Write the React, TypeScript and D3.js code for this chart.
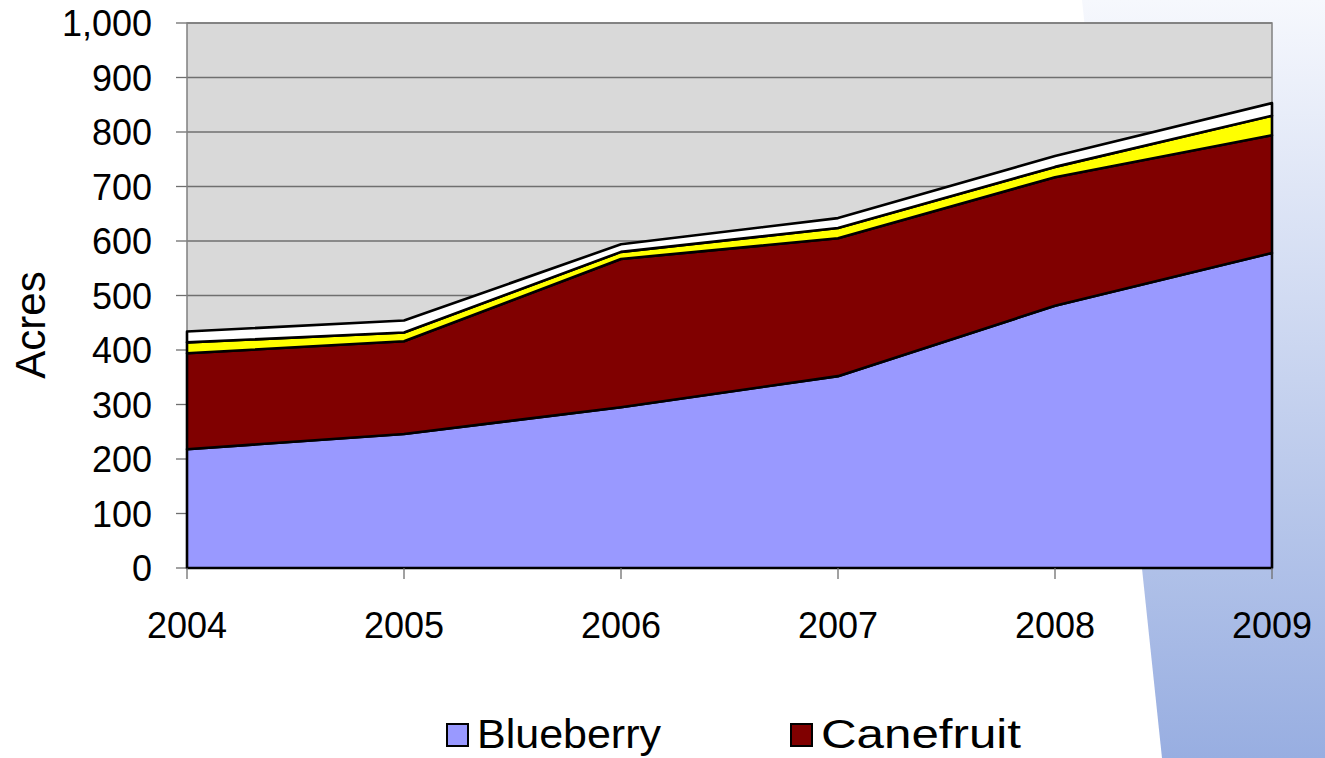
import * as d3 from "d3";

const years = ["2004", "2005", "2006", "2007", "2008", "2009"];
const blueberry = [218, 246, 295, 352, 481, 578];
const canefruit = [176, 170, 272, 253, 236, 216];
const strawberry = [20, 16, 13, 19, 19, 36];
const other = [20, 22, 14, 18, 20, 23];
const yTicks = [0, 100, 200, 300, 400, 500, 600, 700, 800, 900, 1000];

const seriesKeys = ["Blueberry", "Canefruit", "Strawberry", "Other"];
const colors = ["#9999FF", "#800000", "#FFFF00", "#FFFFFF"];
const legendItems = [
	{ name: "Blueberry", color: "#9999FF", x: 447, len: 184 },
	{ name: "Canefruit", color: "#800000", x: 791, len: 200 },
];

const WIDTH = 1325;
const HEIGHT = 758;
const LEFT = 187;
const RIGHT = 1272;
const TOP = 23;
const BOTTOM = 568;

type Row = { year: string; [key: string]: number | string };

export default function App() {
	const rows: Row[] = years.map((year, i) => ({
		year,
		Blueberry: blueberry[i],
		Canefruit: canefruit[i],
		Strawberry: strawberry[i],
		Other: other[i],
	}));

	const x = d3.scalePoint<string>().domain(years).range([LEFT, RIGHT]);
	const y = d3.scaleLinear().domain([0, 1000]).range([BOTTOM, TOP]);

	// stack the four series on top of each other
	const stacked = d3.stack<Row>().keys(seriesKeys).value((d, key) => d[key] as number)(rows);

	const areaGen = d3
		.area<d3.SeriesPoint<Row>>()
		.x((d) => x(d.data.year) as number)
		.y0((d) => y(d[0]))
		.y1((d) => y(d[1]));

	const fmt = d3.format(",");

	return (
		<svg
			width={WIDTH}
			height={HEIGHT}
			style={{ position: "absolute", left: 0, top: 0, fontFamily: "'Liberation Sans', Arial, sans-serif" }}
		>
			<defs>
				<linearGradient id="bgGrad" x1="0" y1="0" x2="0" y2="1">
					<stop offset="0%" stopColor="#F6F8FD" />
					<stop offset="100%" stopColor="#98AEE1" />
				</linearGradient>
			</defs>
			<rect width={WIDTH} height={HEIGHT} fill="#fff" />
			{/* slide decoration on the right */}
			<polygon points={`1082,0 ${WIDTH},0 ${WIDTH},${HEIGHT} 1162,${HEIGHT}`} fill="url(#bgGrad)" />

			<rect x={LEFT} y={TOP} width={RIGHT - LEFT} height={BOTTOM - TOP} fill="#D9D9D9" />

			{yTicks.map((t) => (
				<g key={t}>
					<line x1={LEFT} x2={RIGHT} y1={y(t)} y2={y(t)} stroke="#6f6f6f" strokeWidth={1.3} />
					<line x1={LEFT - 11} x2={LEFT} y1={y(t)} y2={y(t)} stroke="#6f6f6f" strokeWidth={1.3} />
					<text x={152} y={y(t) + 13} textAnchor="end" fontSize={36}>
						{fmt(t)}
					</text>
				</g>
			))}
			<rect x={LEFT} y={TOP} width={RIGHT - LEFT} height={BOTTOM - TOP} fill="none" stroke="#808080" strokeWidth={1.5} />

			{stacked.map((s, i) => (
				<path key={s.key} d={areaGen(s) ?? ""} fill={colors[i]} stroke="#000" strokeWidth={2.6} strokeLinejoin="round" />
			))}

			{years.map((yr) => (
				<g key={yr}>
					<line x1={x(yr)} x2={x(yr)} y1={BOTTOM} y2={BOTTOM + 11} stroke="#6f6f6f" strokeWidth={1.3} />
					<text x={x(yr)} y={638} textAnchor="middle" fontSize={36}>
						{yr}
					</text>
				</g>
			))}

			<text transform={`translate(45, 325) rotate(-90)`} textAnchor="middle" fontSize={42}>
				Acres
			</text>

			{legendItems.map((d) => (
				<g key={d.name}>
					<rect x={d.x} y={724} width={21} height={22} fill={d.color} stroke="#000" strokeWidth={2} />
					<text x={d.x + 30} y={748} fontSize={40} textLength={d.len} lengthAdjust="spacingAndGlyphs">
						{d.name}
					</text>
				</g>
			))}
		</svg>
	);
}
